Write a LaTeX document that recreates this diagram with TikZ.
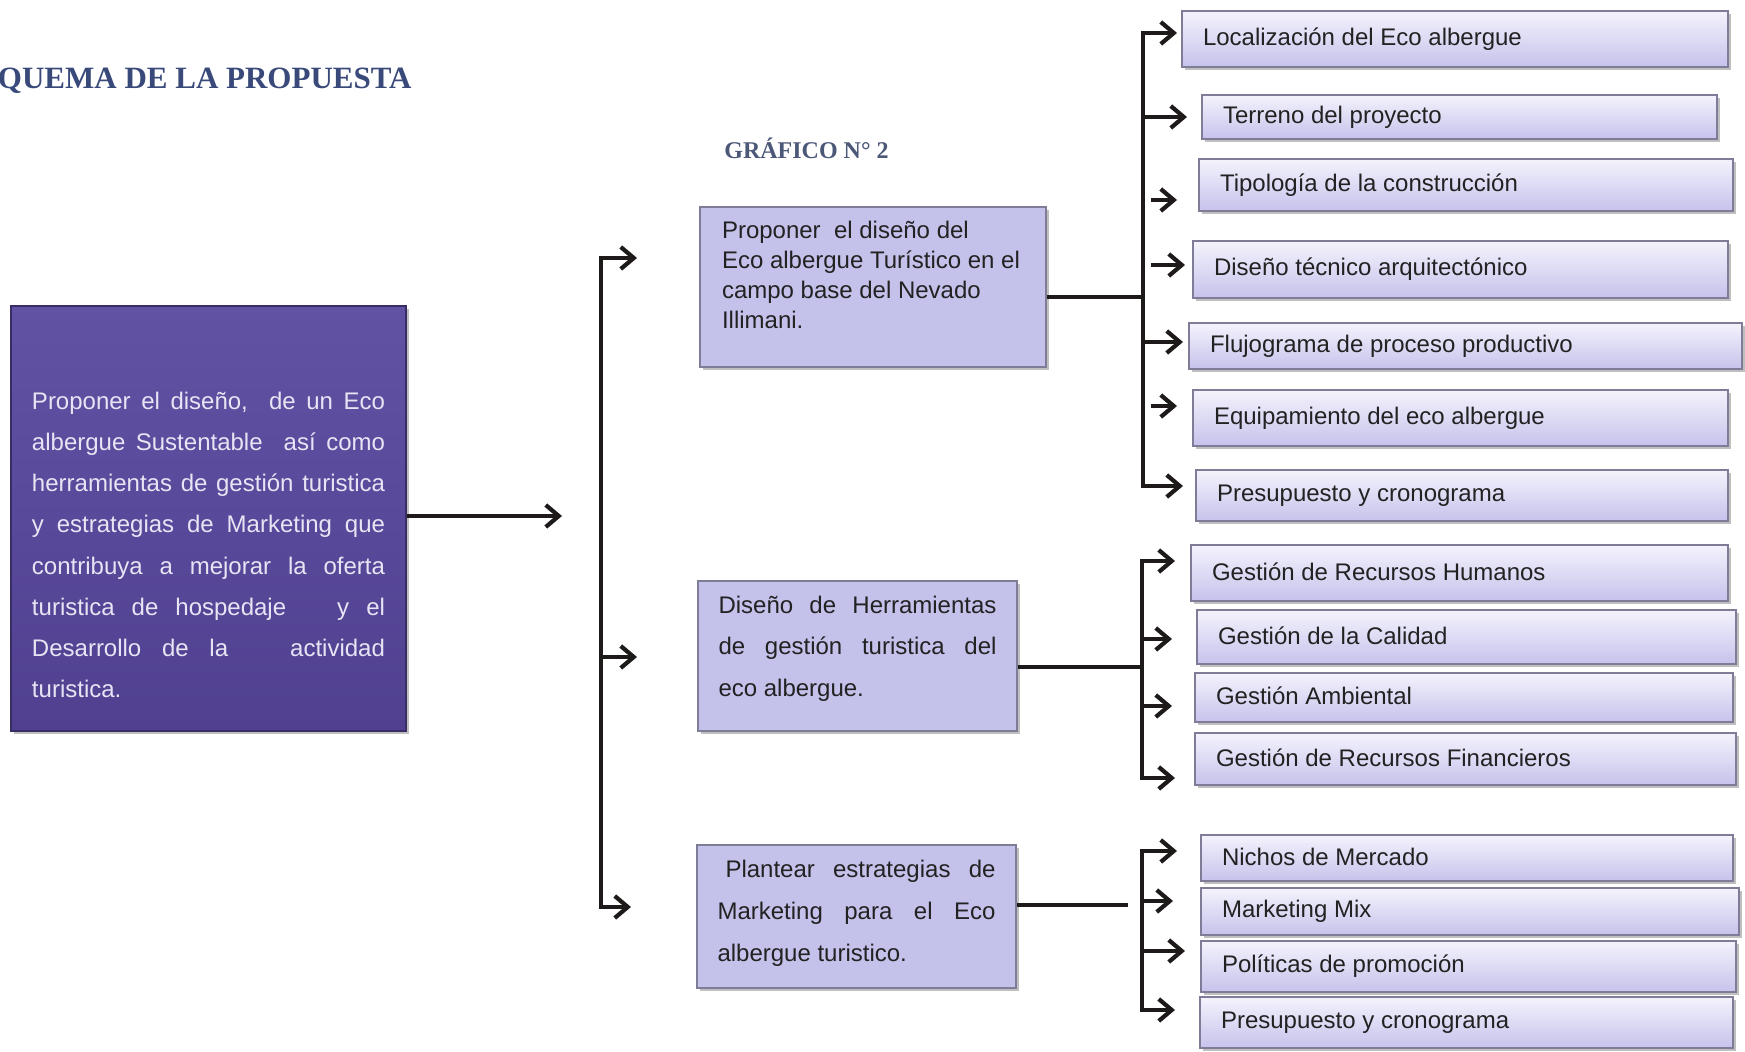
\documentclass[tikz,border=0pt]{standalone}
\usepackage{fontspec}
\setmainfont{Liberation Sans}
\newfontfamily\titlefont{Liberation Serif}
\usetikzlibrary{arrows.meta,shadows}
\definecolor{rbtop}{HTML}{F4F3FC}
\definecolor{rbbot}{HTML}{C6C2EC}
\definecolor{rbline}{HTML}{7E7C96}
\definecolor{midfill}{HTML}{C4C1EA}
\definecolor{purtop}{HTML}{6152A4}
\definecolor{purbot}{HTML}{514090}
\definecolor{purtext}{HTML}{E8E4F4}
\definecolor{titleblue}{HTML}{394A7A}
\definecolor{grafblue}{HTML}{4C5878}
\definecolor{txt}{HTML}{222222}
\definecolor{lin}{HTML}{1E1A1A}

\newcommand\rbx[6]{%
  \pgfmathsetmacro\rbw{(#4-#2)*0.5}%
  \pgfmathsetmacro\rbh{(#5-#3)*0.5}%
  \node[rbox, minimum width=\rbw pt, minimum height=\rbh pt] (#1) at ({(#2+#4)/2},{(#3+#5)/2}) {\makebox[\rbw pt][l]{\hspace{10.5pt}\raisebox{1.5pt}{#6}}};%
}

\begin{document}
\begin{tikzpicture}[x=0.5pt,y=-0.5pt,
  font=\fontsize{12}{14.4}\selectfont,
  >={Straight Barb[length=6.5pt,width=11pt,line width=2.1pt]},
  conn/.style={line width=1.7pt, draw=lin},
  shad/.style={drop shadow={shadow xshift=1.5pt,shadow yshift=-1.5pt,fill=black!55,opacity=0.45}},
  rbox/.style={draw=rbline, line width=0.6pt, top color=rbtop, bottom color=rbbot, inner sep=0pt, text=txt, shad},
  midbox/.style={draw=rbline, line width=0.6pt, fill=midfill, inner ysep=0pt, text=txt, shad},
  purbox/.style={draw=purbot!70!black, line width=0.6pt, top color=purtop, bottom color=purbot, inner ysep=0pt, text=purtext, shad}]

\fill[white] (0,0) rectangle (1745,1052);
\useasboundingbox (0,0) rectangle (1745,1052);

% titles
\node[anchor=base east, font=\titlefont\bfseries\fontsize{15.5}{18}\selectfont, text=titleblue, inner sep=0pt] (title) at (412,89) {QUEMA DE LA PROPUESTA};
\node[anchor=base west, font=\titlefont\bfseries\fontsize{12}{14}\selectfont, text=grafblue, inner sep=0pt] (graf) at (724,159) {GRÁFICO N° 2};

% purple main box
\node[purbox, inner xsep=10.5pt, minimum width=197.5pt, minimum height=212.5pt] (P) at (208.5,518.5)
 {\parbox[c][212.5pt][t]{176.5pt}{\vspace*{42.7pt}\baselineskip=20.6pt
 \rule{0pt}{9pt}\makebox[176.5pt][s]{Proponer el diseño,\ \ de un Eco}\\
 \makebox[176.5pt][s]{albergue Sustentable\ \ así como}\\
 \makebox[176.5pt][s]{herramientas de gestión turistica}\\
 \makebox[176.5pt][s]{y estrategias de Marketing que}\\
 \makebox[176.5pt][s]{contribuya a mejorar la oferta}\\
 \makebox[176.5pt][s]{turistica de hospedaje\ \ \ y el}\\
 \makebox[176.5pt][s]{Desarrollo de la\ \ \ actividad}\\
 turistica.}};

% middle boxes
\node[midbox, inner xsep=11pt, minimum width=173pt, minimum height=80pt] (m1) at (873,287)
 {\parbox[c][80pt][t]{151pt}{\vspace*{6.7pt}\baselineskip=15pt
 \rule{0pt}{9pt}Proponer\ \ el diseño del\\Eco albergue Turístico en el\\campo base del Nevado\\Illimani.}};
\node[midbox, inner xsep=10.25pt, minimum width=159.5pt, minimum height=75pt] (m2) at (857.5,656)
 {\parbox[c][75pt][t]{139pt}{\vspace*{7.2pt}\baselineskip=20.75pt
 \rule{0pt}{9pt}\makebox[139pt][s]{Diseño de Herramientas}\\
 \makebox[139pt][s]{de gestión turistica del}\\
 eco albergue.}};
\node[midbox, inner xsep=10.25pt, minimum width=159.5pt, minimum height=71.5pt] (m3) at (856.5,916.5)
 {\parbox[c][71.5pt][t]{139pt}{\vspace*{7.2pt}\baselineskip=21pt
 \rule{0pt}{9pt}\hspace{4pt}\makebox[135pt][s]{Plantear estrategias de}\\
 \makebox[139pt][s]{Marketing para el Eco}\\
 albergue turistico.}};

% right boxes
\rbx{b1}{1182}{11}{1728}{67}{Localización del Eco albergue}
\rbx{b2}{1202}{95}{1717}{139}{Terreno del proyecto}
\rbx{b3}{1199}{159}{1733}{211}{Tipología de la construcción}
\rbx{b4}{1193}{241}{1728}{298}{Diseño técnico arquitectónico}
\rbx{b5}{1189}{323}{1742}{369}{Flujograma de proceso productivo}
\rbx{b6}{1193}{390}{1728}{446}{Equipamiento del eco albergue}
\rbx{b7}{1196}{470}{1728}{521}{Presupuesto y cronograma}
\rbx{b8}{1191}{545}{1728}{601}{Gestión de Recursos Humanos}
\rbx{b9}{1197}{610}{1736}{664}{Gestión de la Calidad}
\rbx{b10}{1195}{673}{1733}{722}{Gestión Ambiental}
\rbx{b11}{1195}{733}{1736}{785}{Gestión de Recursos Financieros}
\rbx{b12}{1201}{835}{1733}{881}{Nichos de Mercado}
\rbx{b13}{1201}{888}{1739}{935}{Marketing Mix}
\rbx{b14}{1201}{941}{1736}{992}{Políticas de promoción}
\rbx{b15}{1200}{997}{1733}{1048}{Presupuesto y cronograma}

% central bracket
\coordinate (busC) at (601,0);
\coordinate (c1) at (637,258);
\coordinate (c2) at (637,657);
\coordinate (c3) at (631,907);
\coordinate (ptip) at (562,516);
\draw[conn,->] (P.east |- ptip) -- (ptip);
\draw[conn,<->] (c1) -- (busC |- c1) -- (busC |- c3) -- (c3);
\draw[conn,->] (busC |- c2) -- (c2);

% bracket 1
\coordinate (bus1) at (1143,0);
\coordinate (m1o) at ([yshift=-5pt]m1.east);
\coordinate (r1a) at (1177,33);
\coordinate (r1b) at (1187,117);
\coordinate (r1c) at (1177,200);
\coordinate (r1d) at (1185,265);
\coordinate (r1e) at (1183,342);
\coordinate (r1f) at (1177,406);
\coordinate (r1g) at (1183,486);
\draw[conn] (m1o) -- (m1o -| bus1);
\draw[conn,<->] (r1a) -- (bus1 |- r1a) -- (bus1 |- r1g) -- (r1g);
\draw[conn,->] (bus1 |- r1b) -- (r1b);
\draw[conn,->,shorten <=4pt] (bus1 |- r1c) -- (r1c);
\draw[conn,->,shorten <=4pt] (bus1 |- r1d) -- (r1d);
\draw[conn,->] (bus1 |- r1e) -- (r1e);
\draw[conn,->,shorten <=4pt] (bus1 |- r1f) -- (r1f);

% bracket 2
\coordinate (bus2) at (1142,0);
\coordinate (m2o) at ([yshift=-5.5pt]m2.east);
\coordinate (r2a) at (1175,561);
\coordinate (r2b) at (1172,639);
\coordinate (r2c) at (1172,706);
\coordinate (r2d) at (1175,778);
\draw[conn] (m2o) -- (m2o -| bus2);
\draw[conn,<->] (r2a) -- (bus2 |- r2a) -- (bus2 |- r2d) -- (r2d);
\draw[conn,->] (bus2 |- r2b) -- (r2b);
\draw[conn,->] (bus2 |- r2c) -- (r2c);

% bracket 3
\coordinate (bus3) at (1142,0);
\coordinate (m3end) at (1128,0);
\coordinate (m3o) at ([yshift=5.75pt]m3.east);
\coordinate (r3a) at (1177,851);
\coordinate (r3b) at (1173,901);
\coordinate (r3c) at (1185,951);
\coordinate (r3d) at (1175,1010);
\draw[conn] (m3o) -- (m3o -| m3end);
\draw[conn,<->] (r3a) -- (bus3 |- r3a) -- (bus3 |- r3d) -- (r3d);
\draw[conn,->] (bus3 |- r3b) -- (r3b);
\draw[conn,->] (bus3 |- r3c) -- (r3c);
\end{tikzpicture}
\end{document}
